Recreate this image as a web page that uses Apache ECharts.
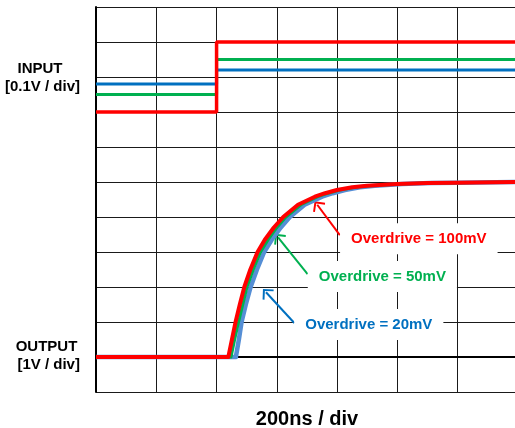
<!DOCTYPE html>
<html>
<head>
<meta charset="utf-8">
<script src="https://cdn.jsdelivr.net/npm/echarts@6/dist/echarts.min.js"></script>
<style>
  html, body { margin: 0; padding: 0; background: #fff; }
  #chart { width: 515px; height: 428px; }
</style>
</head>
<body>
<div id="chart"></div>
<script>
// Comparator response for three input overdrive levels.
// Time in ns (200 ns / div), input in mV about the threshold (0.1 V / div),
// output in volts (1 V / div).

const timeRange = [0, 1400];
const timeStep = 200;
const inputStepTime = 400;            // ns, moment the input steps across threshold
const overdriveMv = [20, 50, 100];    // mV, one trace per level
const overdriveLabels = ['Overdrive = 20mV', 'Overdrive = 50mV', 'Overdrive = 100mV'];

// Output transitions (ns, V)
const outTime20  = [0, 464, 474, 483, 497, 513, 534, 558, 583, 613, 643, 692, 750, 785, 826, 875, 925, 1015, 1110, 1200, 1400];
const outVolt20  = [0, 0,   0.5, 1,   1.5, 2,   2.5, 3,   3.35, 3.7, 4,  4.35, 4.58, 4.68, 4.77, 4.85, 4.89, 4.94, 4.97, 4.98, 5.0];
const outTime50  = [0, 448, 460, 473, 487, 501, 522, 546, 571, 600, 630, 680, 736, 770, 809, 860, 910, 1005, 1105, 1198, 1400];
const outVolt50  = [0, 0,   0.5, 1,   1.5, 2,   2.5, 3,   3.35, 3.7, 4,  4.35, 4.58, 4.68, 4.77, 4.85, 4.89, 4.94, 4.97, 4.98, 5.0];
const outTime100 = [0, 439, 451, 463, 477, 492, 512, 536, 560, 590, 621, 670, 726, 760, 799, 850, 899, 998, 1100, 1197, 1400];
const outVolt100 = [0, 0,   0.5, 1,   1.5, 2,   2.5, 3,   3.35, 3.7, 4,  4.35, 4.58, 4.68, 4.77, 4.85, 4.89, 4.94, 4.97, 4.98, 5.0];

// Callout arrows: [tail time, tail V, head time, head V]
const arrow20  = [658, 0.97, 564, 1.85];
const arrow50  = [702, 2.37, 604, 3.42];
const arrow100 = [809, 3.48, 734, 4.35];
// Callout text centres: [time, V]
const label20  = [905, 0.93];
const label50  = [950, 2.30];
const label100 = [1071, 3.38];

const inputColors  = ['#0070C0', '#00B050', '#FF0000'];
const outputColors = ['#558ED5', '#00B050', '#FF0000'];
const calloutColors = ['#0070C0', '#00B050', '#FF0000'];
const FONT = "'Liberation Sans', Arial, Helvetica, sans-serif";

const zip = (xs, ys) => xs.map((x, i) => [x, ys[i]]);

function inputData(mv) {
  return [[timeRange[0], -mv], [inputStepTime, -mv], [inputStepTime, mv], [timeRange[1], mv]];
}

// open arrow head, pointing up
const chevron = 'path://M8,0 L16,7.5 L14.6,8.9 L8,2.8 L1.4,8.9 L0,7.5 Z';

function callout(arrow, label, text, color) {
  return {
    markLine: {
      silent: true,
      animation: false,
      symbol: ['none', chevron],
      symbolSize: [15, 9],
      lineStyle: { color: color, width: 2, type: 'solid' },
      label: { show: false },
      data: [[{ coord: [arrow[0], arrow[1]] }, { coord: [arrow[2], arrow[3]] }]]
    },
    markPoint: {
      silent: true,
      animation: false,
      symbol: 'rect',
      symbolSize: [1, 1],
      itemStyle: { color: 'rgba(0,0,0,0)' },
      label: {
        show: true,
        position: 'inside',
        formatter: text,
        color: color,
        fontFamily: FONT,
        fontWeight: 'bold',
        fontSize: 15,
        lineHeight: 15,
        backgroundColor: '#fff',
        padding: [8, 11]
      },
      data: [{ coord: label }]
    }
  };
}

const outputSets = [
  { data: zip(outTime20, outVolt20), width: 4.5, arrow: arrow20, label: label20 },
  { data: zip(outTime50, outVolt50), width: 3, arrow: arrow50, label: label50 },
  { data: zip(outTime100, outVolt100), width: 4, arrow: arrow100, label: label100 }
];

const series = [];
overdriveMv.forEach((mv, i) => {
  series.push({
    type: 'line',
    yAxisIndex: 1,
    data: inputData(mv),
    showSymbol: false,
    animation: false,
    z: 3 + i,
    lineStyle: { color: inputColors[i], width: i === 2 ? 3.5 : 3 }
  });
});
outputSets.forEach((o, i) => {
  series.push(Object.assign({
    type: 'line',
    yAxisIndex: 0,
    data: o.data,
    showSymbol: false,
    smooth: false,
    animation: false,
    z: 6 + i,
    lineStyle: { color: outputColors[i], width: o.width, join: 'round' }
  }, callout(o.arrow, o.label, overdriveLabels[i], calloutColors[i])));
});

const gridLine = { show: true, lineStyle: { color: '#1a1a1a', width: 1 } };
const labelFont = "bold 15px 'Liberation Sans', Arial, sans-serif";

const option = {
  backgroundColor: '#fff',
  animation: false,
  grid: { left: 96, top: 7, width: 422, height: 385, containLabel: false, outerBoundsMode: 'none' },
  xAxis: {
    type: 'value',
    min: timeRange[0],
    max: timeRange[1],
    interval: timeStep,
    name: '200ns / div',
    nameLocation: 'middle',
    nameGap: 17,
    nameTextStyle: { fontFamily: FONT, fontWeight: 'bold', fontSize: 20, color: '#000' },
    axisLine: { show: true, lineStyle: { color: '#000', width: 2 } },
    axisTick: { show: false },
    axisLabel: { show: false },
    splitLine: gridLine
  },
  yAxis: [
    {
      type: 'value',
      min: -1,
      max: 10,
      interval: 1,
      axisLine: { show: true, lineStyle: { color: '#000', width: 2 } },
      axisTick: { show: false },
      axisLabel: { show: false },
      splitLine: gridLine
    },
    {
      type: 'value',
      min: -900,
      max: 200,
      interval: 100,
      position: 'right',
      axisLine: { show: false },
      axisTick: { show: false },
      axisLabel: { show: false },
      splitLine: { show: false }
    }
  ],
  graphic: [
    { type: 'text', x: 40, y: 69, style: { text: 'INPUT', align: 'center', verticalAlign: 'middle', font: labelFont, fill: '#000' } },
    { type: 'text', x: 42.5, y: 87, style: { text: '[0.1V / div]', align: 'center', verticalAlign: 'middle', font: labelFont, fill: '#000' } },
    { type: 'text', x: 46.5, y: 347, style: { text: 'OUTPUT', align: 'center', verticalAlign: 'middle', font: labelFont, fill: '#000' } },
    { type: 'text', x: 48.7, y: 365, style: { text: '[1V / div]', align: 'center', verticalAlign: 'middle', font: labelFont, fill: '#000' } }
  ],
  series: series
};

const chart = echarts.init(document.getElementById('chart'), null, { renderer: 'canvas' });
chart.setOption(option);
</script>
</body>
</html>
